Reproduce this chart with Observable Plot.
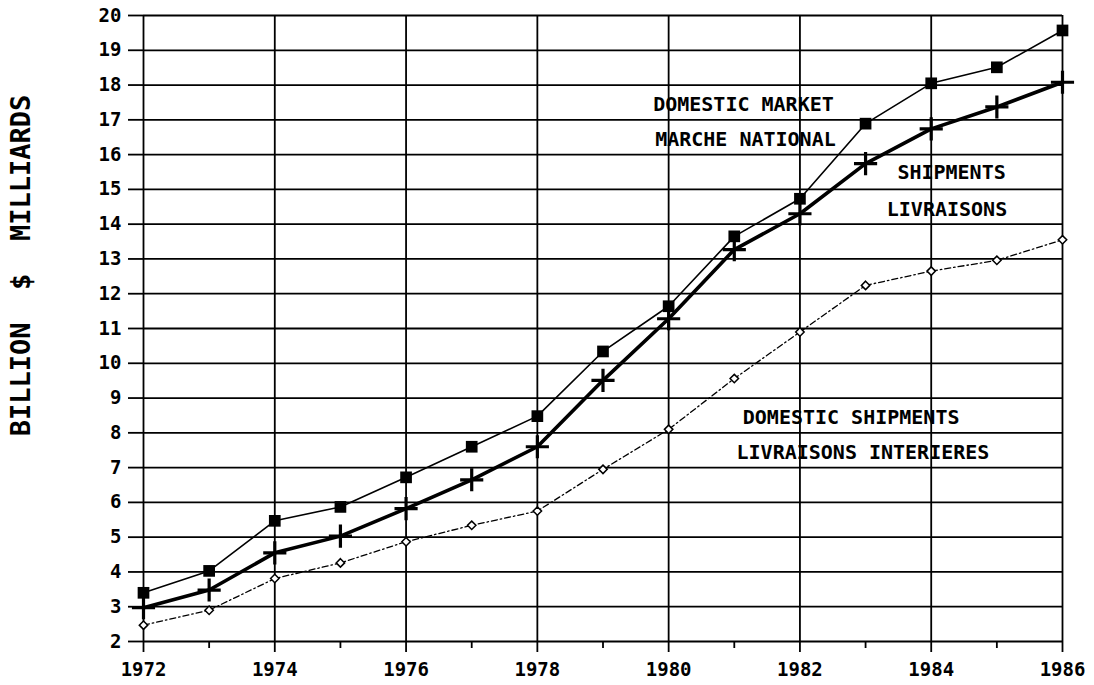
<!DOCTYPE html>
<html>
<head>
<meta charset="utf-8">
<script src="https://cdn.jsdelivr.net/npm/d3@7"></script>
<script src="https://cdn.jsdelivr.net/npm/@observablehq/plot@0.6"></script>
<style>
  html, body { margin: 0; padding: 0; background: #fff; }
  #chart svg { display: block; }
</style>
</head>
<body>
<div id="chart"></div>
<script>
const years = [1972, 1973, 1974, 1975, 1976, 1977, 1978, 1979, 1980, 1981, 1982, 1983, 1984, 1985, 1986];
const domesticMarket = [3.4, 4.03, 5.47, 5.87, 6.72, 7.6, 8.48, 10.34, 11.64, 13.65, 14.73, 16.89, 18.05, 18.51, 19.57];
const shipments = [2.97, 3.48, 4.55, 5.03, 5.82, 6.65, 7.6, 9.51, 11.28, 13.27, 14.3, 15.74, 16.74, 17.37, 18.08];
const domesticShipments = [2.47, 2.9, 3.81, 4.26, 4.87, 5.34, 5.75, 6.95, 8.1, 9.56, 10.9, 12.24, 12.65, 12.96, 13.55];

const yTicks = d3.range(2, 21);
const xLabelTicks = [1972, 1974, 1976, 1978, 1980, 1982, 1984, 1986];
const xMinorTicks = [1973, 1975, 1977, 1979, 1981, 1983, 1985];

const yTitle = "BILLION\u00A0\u00A0$\u00A0\u00A0MILLIARDS";
const labelTexts = ["DOMESTIC MARKET", "MARCHE NATIONAL", "SHIPMENTS", "LIVRAISONS", "DOMESTIC SHIPMENTS", "LIVRAISONS INTERIERES"];
const labelYears = [1981.14, 1981.17, 1984.31, 1984.24, 1982.78, 1982.96];
const labelValues = [17.43, 16.43, 15.48, 14.42, 8.44, 7.43];

const mk = (vals) => years.map((y, i) => ({year: y, value: vals[i]}));
const dm = mk(domesticMarket);
const sh = mk(shipments);
const ds = mk(domesticShipments);
const labels = labelTexts.map((t, i) => ({text: t, year: labelYears[i], value: labelValues[i]}));

const font = "DejaVu Sans Mono";

const chart = Plot.plot({
  width: 1094,
  height: 685,
  marginLeft: 143,
  marginRight: 32,
  marginTop: 15,
  marginBottom: 44,
  style: {fontFamily: font, fontWeight: "bold", fontSize: "19px", background: "#fff", color: "#000"},
  x: {domain: [1972, 1986]},
  y: {domain: [2, 20]},
  marks: [
    Plot.gridY(yTicks, {stroke: "#000", strokeOpacity: 1, strokeWidth: 1.8}),
    Plot.gridX(xLabelTicks, {stroke: "#000", strokeOpacity: 1, strokeWidth: 1.8}),
    Plot.axisY(yTicks, {tickSize: 15, tickPadding: 7, strokeWidth: 1.8, fontSize: 19, fontFamily: font, fontWeight: "bold", label: null, tickFormat: d => String(d)}),
    Plot.axisX(xLabelTicks, {tickSize: 11, tickPadding: 10, strokeWidth: 1.8, fontSize: 19, fontFamily: font, fontWeight: "bold", label: null, tickFormat: d => String(d)}),
    Plot.axisX(xMinorTicks, {tickSize: 7, strokeWidth: 1.8, tickFormat: () => "", label: null}),
    Plot.text([yTitle], {frameAnchor: "left", dx: -122, dy: -63, rotate: -90, textAnchor: "middle", lineAnchor: "middle", fontSize: 27, fontFamily: font, fontWeight: "bold", fill: "#000"}),
    // Domestic shipments: dashed thin line with open diamonds
    Plot.line(ds, {x: "year", y: "value", stroke: "#000", strokeWidth: 1.3, strokeDasharray: "6,3,1.5,3"}),
    Plot.dot(ds, {x: "year", y: "value", symbol: "diamond2", r: 3.8, stroke: "#000", strokeWidth: 1.5, fill: "#fff"}),
    // Domestic market: thin line with filled squares
    Plot.line(dm, {x: "year", y: "value", stroke: "#000", strokeWidth: 1.6}),
    Plot.dot(dm, {x: "year", y: "value", symbol: "square", r: 6.6, fill: "#000", stroke: "none"}),
    // Shipments: thick line with plus markers
    Plot.line(sh, {x: "year", y: "value", stroke: "#000", strokeWidth: 3.6}),
    Plot.dot(sh, {x: "year", y: "value", symbol: "plus", r: 7.5, stroke: "#000", strokeWidth: 3.2}),
    Plot.text(labels, {x: "year", y: "value", text: "text", fontSize: 20, fontFamily: font, fontWeight: "bold", fill: "#000", textAnchor: "middle", lineAnchor: "middle", letterSpacing: 0.4})
  ]
});
document.getElementById("chart").appendChild(chart);
</script>
</body>
</html>
